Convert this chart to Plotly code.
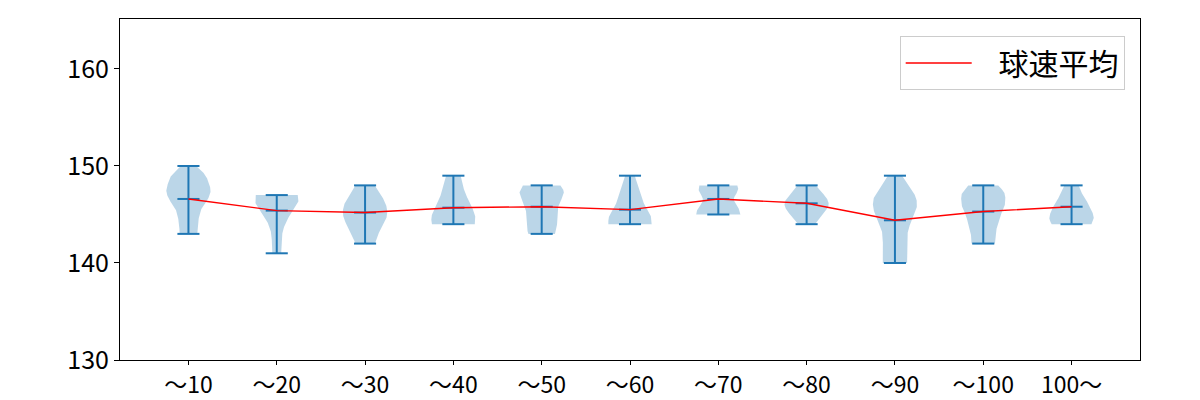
import numpy as np
import plotly.graph_objects as go

categories = ["～10", "～20", "～30", "～40", "～50", "～60", "～70", "～80", "～90", "～100", "100～"]
speed_max = [150, 147, 148, 149, 148, 149, 148, 148, 149, 148, 148]
speed_min = [143, 141, 142, 144, 143, 144, 145, 144, 140, 142, 144]
speed_mean = [146.6, 145.4, 145.2, 145.7, 145.8, 145.5, 146.6, 146.15, 144.4, 145.3, 145.8]
# relative density (0..1) at 9 evenly spaced levels from min (first) to max (last)
density = [
    [0.40, 0.42, 0.48, 0.60, 0.86, 1.00, 0.92, 0.74, 0.35],
    [0.20, 0.21, 0.23, 0.27, 0.38, 0.55, 0.78, 0.97, 0.95],
    [0.45, 0.55, 0.72, 0.90, 1.00, 0.98, 0.85, 0.65, 0.44],
    [0.97, 1.00, 0.93, 0.82, 0.68, 0.55, 0.46, 0.40, 0.33],
    [0.60, 0.68, 0.70, 0.70, 0.72, 0.80, 0.93, 1.00, 0.85],
    [0.98, 0.97, 0.85, 0.68, 0.57, 0.48, 0.38, 0.30, 0.22],
    [1.00, 0.97, 0.88, 0.76, 0.70, 0.74, 0.84, 0.90, 0.86],
    [0.38, 0.55, 0.75, 0.92, 1.00, 0.95, 0.80, 0.60, 0.42],
    [0.55, 0.55, 0.55, 0.60, 0.78, 0.98, 0.95, 0.65, 0.32],
    [0.53, 0.55, 0.60, 0.70, 0.80, 0.95, 1.00, 0.95, 0.68],
    [0.90, 1.00, 0.98, 0.88, 0.80, 0.65, 0.50, 0.42, 0.32],
]
series_name = "球速平均"

BLUE = "#1f77b4"
HALF = 0.25   # max half-width of a violin (x units)
CAP = 0.125   # half-length of cap lines


def smooth(vals, n=120):
    """Cubic Hermite (Catmull-Rom) resampling of evenly spaced values."""
    v = np.asarray(vals, float)
    m = len(v) - 1
    tan = np.gradient(v)
    s = np.linspace(0, m, n)
    i = np.minimum(np.floor(s).astype(int), m - 1)
    u = s - i
    h00 = 2 * u**3 - 3 * u**2 + 1
    h10 = u**3 - 2 * u**2 + u
    h01 = -2 * u**3 + 3 * u**2
    h11 = u**3 - u**2
    out = h00 * v[i] + h10 * tan[i] + h01 * v[i + 1] + h11 * tan[i + 1]
    return s / m, np.clip(out, 0, None)


fig = go.Figure()
xs = list(range(1, len(categories) + 1))

for k, x in enumerate(xs):
    t, w = smooth(density[k])
    y = speed_min[k] + t * (speed_max[k] - speed_min[k])
    px = np.concatenate([x + HALF * w, (x - HALF * w)[::-1]])
    py = np.concatenate([y, y[::-1]])
    fig.add_trace(go.Scatter(x=px, y=py, fill="toself", mode="lines",
                             line=dict(width=0), fillcolor="rgba(31,119,180,0.3)",
                             hoverinfo="skip", showlegend=False))

lx, ly = [], []
for k, x in enumerate(xs):
    for v in (speed_max[k], speed_min[k], speed_mean[k]):
        lx += [x - CAP, x + CAP, None]
        ly += [v, v, None]
    lx += [x, x, None]
    ly += [speed_min[k], speed_max[k], None]
fig.add_trace(go.Scatter(x=lx, y=ly, mode="lines", line=dict(color=BLUE, width=2),
                         hoverinfo="skip", showlegend=False))

fig.add_trace(go.Scatter(x=xs, y=speed_mean, mode="lines", name="\u2002\u00a0" + series_name,
                         line=dict(color="red", width=1.4)))

font = "Noto Sans CJK JP, Noto Sans, sans-serif"
fig.update_layout(
    width=1200, height=400,
    margin=dict(l=120, r=60, t=19, b=40, autoexpand=False),
    paper_bgcolor="white", plot_bgcolor="white",
    font=dict(family=font, size=25, color="black"),
    legend=dict(x=0.985, y=0.95, xanchor="right", yanchor="top",
                bgcolor="rgba(255,255,255,0.8)", bordercolor="#cccccc", borderwidth=1,
                font=dict(size=30), itemwidth=66),
    showlegend=True,
)
fig.update_xaxes(range=[0.225, 11.775], tickmode="array", tickvals=xs, ticktext=categories,
                 tickfont=dict(size=23),
                 showgrid=False, zeroline=False, showline=True, linecolor="black", linewidth=1,
                 mirror=True, ticks="outside", ticklen=4, tickcolor="black", automargin=False)
fig.update_yaxes(range=[130, 165.15], tickvals=[130, 140, 150, 160],
                 showgrid=False, zeroline=False, showline=True, linecolor="black", linewidth=1,
                 mirror=True, ticks="outside", ticklen=5, tickcolor="black", automargin=False)

fig.write_html("out.html")
